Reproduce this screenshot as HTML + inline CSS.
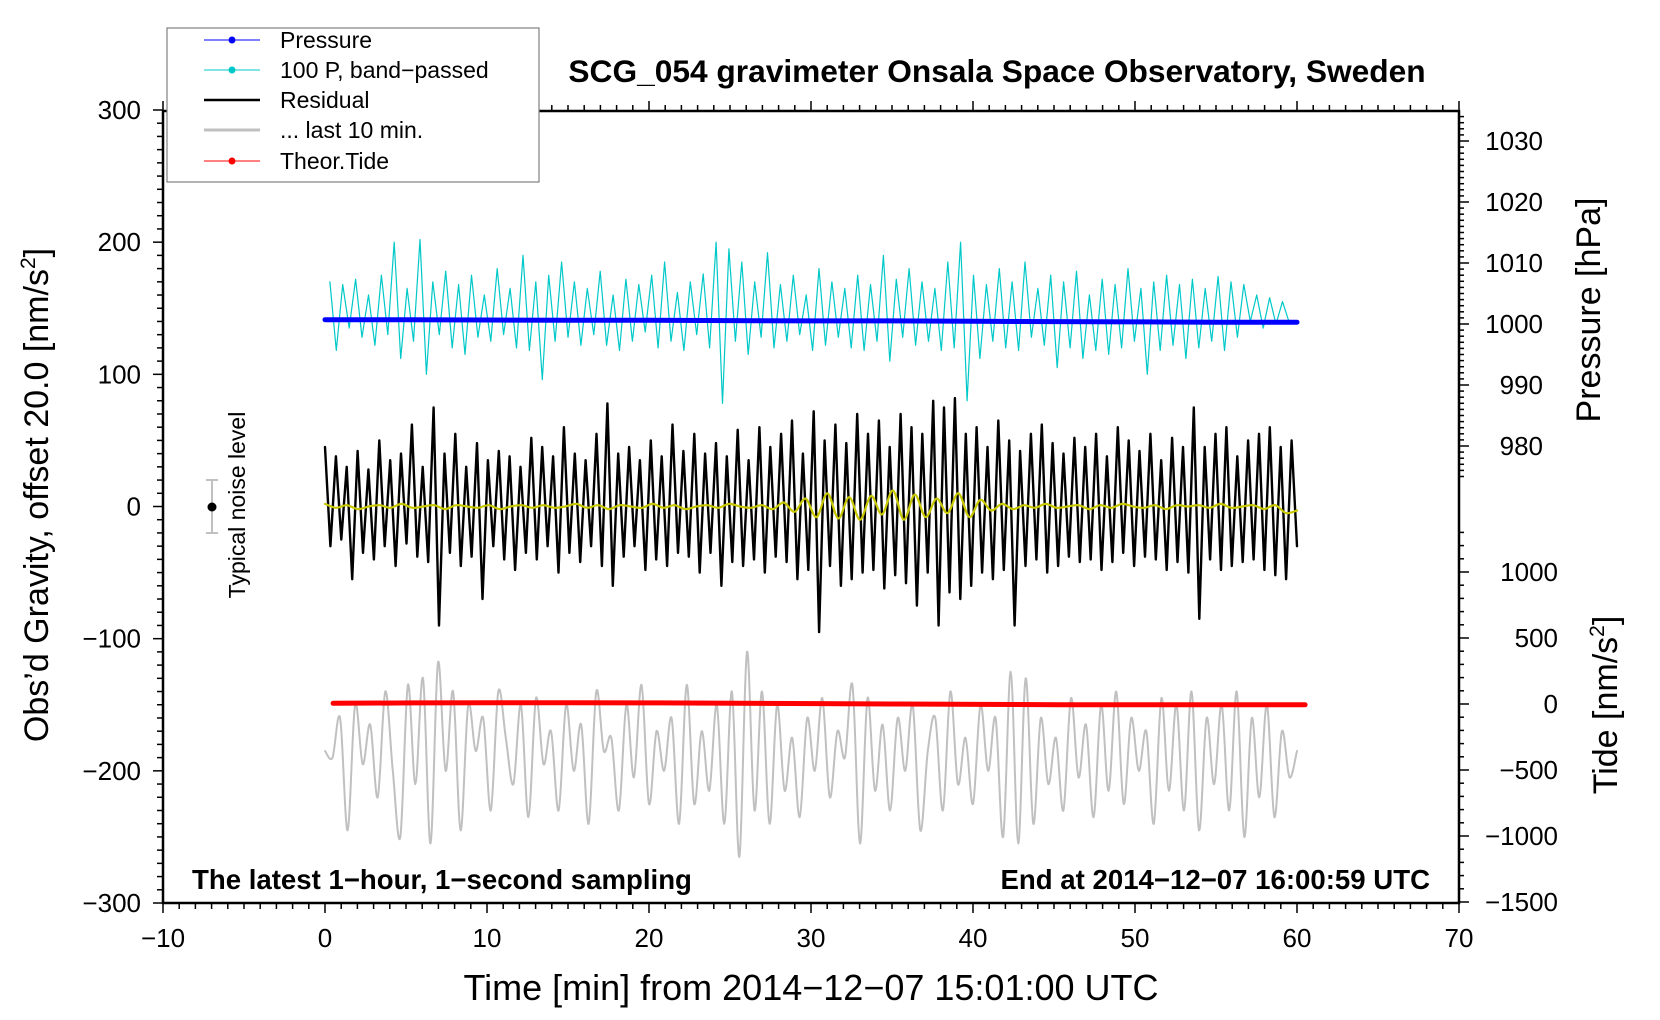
<!DOCTYPE html>
<html><head><meta charset="utf-8"><style>
html,body{margin:0;padding:0;background:#fff;}
svg{display:block;font-family:"Liberation Sans",Arial,sans-serif;}
</style></head><body>
<svg id="chart" width="1660" height="1020" viewBox="0 0 1660 1020" xmlns="http://www.w3.org/2000/svg">
<g id="grid-layer"></g>
<g id="series-layer"></g>
<rect x="163" y="111" width="1296" height="792" fill="none" stroke="#000" stroke-width="2.5"/>
<text x="997" y="82" font-size="31.7" font-weight="bold" text-anchor="middle">SCG_054 gravimeter Onsala Space Observatory, Sweden</text>
<text x="811" y="1000" font-size="36" text-anchor="middle">Time [min] from 2014−12−07 15:01:00 UTC</text>
<text transform="translate(48,495) rotate(-90)" font-size="34" text-anchor="middle">Obs’d Gravity, offset 20.0 [nm/s<tspan font-size="21" dy="-13">2</tspan><tspan dy="13">]</tspan></text>
<text transform="translate(1600,310) rotate(-90)" font-size="34" text-anchor="middle">Pressure [hPa]</text>
<text transform="translate(1617,705) rotate(-90)" font-size="34" text-anchor="middle">Tide [nm/s<tspan font-size="21" dy="-13">2</tspan><tspan dy="13">]</tspan></text>
<text x="192" y="889" font-size="27.6" font-weight="bold">The latest 1−hour, 1−second sampling</text>
<text x="1430" y="889" font-size="27.6" font-weight="bold" text-anchor="end">End at 2014−12−07 16:00:59 UTC</text>
<g>
<line x1="212" y1="480" x2="212" y2="533" stroke="#c0c0c0" stroke-width="2"/>
<line x1="206" y1="480" x2="218" y2="480" stroke="#c0c0c0" stroke-width="2"/>
<line x1="206" y1="533" x2="218" y2="533" stroke="#c0c0c0" stroke-width="2"/>
<circle cx="212" cy="507" r="4.5" fill="#000"/>
<text transform="translate(245,505) rotate(-90)" font-size="23" text-anchor="middle">Typical noise level</text>
</g>
<g>
<rect x="167" y="28" width="372" height="154" fill="#fff" stroke="#808080" stroke-width="1.2"/>
<g><line x1="204" y1="40" x2="260" y2="40" stroke="#0000ff" stroke-width="1"/><circle cx="232" cy="40" r="3.5" fill="#0000ff"/><text x="280" y="48" font-size="23">Pressure</text></g>
<g><line x1="204" y1="70" x2="260" y2="70" stroke="#00c8c8" stroke-width="1"/><circle cx="232" cy="70" r="3.5" fill="#00c8c8"/><text x="280" y="78" font-size="23">100 P, band−passed</text></g>
<g><line x1="204" y1="100" x2="260" y2="100" stroke="#000" stroke-width="2.5"/><text x="280" y="108" font-size="23">Residual</text></g>
<g><line x1="204" y1="130" x2="260" y2="130" stroke="#c0c0c0" stroke-width="3"/><text x="280" y="138" font-size="23">... last 10 min.</text></g>
<g><line x1="204" y1="161" x2="260" y2="161" stroke="#ff0000" stroke-width="1"/><circle cx="232" cy="161" r="3.5" fill="#ff0000"/><text x="280" y="169" font-size="23">Theor.Tide</text></g>
</g>
</svg>
<script>
const residual=[45,-30,38,-25,30,-55,42,-35,28,-40,50,-30,35,-45,40,-28,62,-38,30,-42,
75,-90,40,-35,55,-45,30,-38,48,-70,35,-30,42,-40,38,-48,30,-35,52,-40,
45,-30,38,-50,60,-35,40,-42,35,-30,55,-45,78,-60,40,-38,45,-30,35,-48,
50,-40,38,-45,62,-35,42,-38,55,-50,40,-35,48,-60,38,-42,58,-45,35,-40,
60,-50,45,-38,55,-42,65,-55,40,-48,72,-95,50,-45,62,-60,48,-55,70,-50,
55,-48,65,-62,45,-52,70,-58,60,-75,55,-50,80,-90,75,-65,82,-70,55,-60,
60,-50,45,-55,65,-48,50,-90,42,-45,55,-40,62,-50,48,-45,40,-38,52,-42,
45,-40,55,-48,38,-42,60,-35,50,-45,42,-38,55,-40,35,-48,52,-42,45,-50,
75,-85,45,-40,55,-48,60,-45,38,-42,50,-40,55,-48,60,-52,45,-55,50,-30];
const bandPassed=[170,118,168,135,172,128,160,122,175,130,200,112,165,125,202,100,170,130,178,120,
168,115,175,128,160,125,180,130,165,120,190,118,170,96,175,125,185,128,170,122,
165,130,178,122,160,118,172,125,168,132,175,120,185,125,162,118,170,130,176,120,
200,78,195,125,185,115,170,128,192,120,168,125,175,130,160,118,180,122,170,128,
165,120,175,118,168,125,190,110,172,128,180,122,170,125,165,118,185,120,200,80,
175,112,168,125,180,120,170,118,185,128,165,122,175,105,170,120,178,112,160,118,
172,115,168,120,180,125,165,100,170,118,175,122,168,112,172,120,165,125,174,118,
170,128,168,140,160,135,158,138,155,140];
const smoothed=[2,-1,1,-2,0,1,-1,2,-1,0,1,-2,1,0,-1,1,-2,0,1,-1,
1,-1,0,2,-1,1,-2,1,0,-1,2,-1,1,-2,0,1,-1,2,0,-1,
1,-2,3,-4,6,-8,10,-9,7,-10,8,-6,12,-10,9,-8,6,-5,10,-8,
5,-3,2,-2,1,-1,2,-1,0,1,-2,1,-1,2,0,-1,1,-2,1,0,
1,-1,2,-1,0,1,-2,1,-5,-3];
const last10=[-185,-190,-160,-245,-150,-195,-165,-220,-140,-200,-250,-135,-210,-130,-255,-118,-200,-140,-245,-150,
-185,-160,-230,-140,-175,-210,-150,-235,-145,-195,-170,-230,-150,-200,-165,-240,-140,-185,-175,-230,
-150,-205,-135,-225,-170,-200,-160,-240,-135,-225,-170,-215,-150,-240,-140,-265,-110,-230,-140,-240,
-150,-215,-175,-235,-160,-200,-145,-220,-170,-190,-135,-255,-145,-215,-165,-230,-160,-200,-150,-245,
-185,-160,-230,-140,-210,-175,-225,-150,-200,-160,-250,-125,-255,-130,-240,-160,-210,-175,-230,-145,
-205,-165,-235,-150,-215,-140,-225,-160,-200,-170,-240,-145,-215,-150,-230,-140,-245,-160,-210,-150,
-230,-140,-250,-160,-220,-150,-235,-170,-205,-185];
const pressure=[1000.7,1000.7,1000.65,1000.6,1000.6,1000.55,1000.5,1000.5,1000.45,1000.4,1000.35,1000.3,1000.3];
const tide=[5,8,10,10,8,5,3,0,-3,-5,-6,-6,-6];
const xTicks=[-10,0,10,20,30,40,50,60,70];
const yTicks=[-300,-200,-100,0,100,200,300];
const pTicks=[980,990,1000,1010,1020,1030];
const tTicks=[-1500,-1000,-500,0,500,1000];

const NS="http://www.w3.org/2000/svg";
const X=t=>163+(t+10)*16.2;
const Y=g=>506.5-g*1.3217;
const YP=p=>324-(p-1000)*6.1;
const YT=v=>704-v*0.132;
const axes=document.getElementById('grid-layer');
const ser=document.getElementById('series-layer');
function mk(tag,attrs,parent){const e=document.createElementNS(NS,tag);for(const k in attrs)e.setAttribute(k,attrs[k]);parent.appendChild(e);return e;}
function ln(x1,y1,x2,y2){return mk('line',{x1,y1,x2,y2,stroke:'#000','stroke-width':1.5},axes);}
for(let t=-10;t<=70;t++){const big=t%10===0;const L=big?10:6;ln(X(t),903,X(t),903+L);ln(X(t),111,X(t),111-L);}
xTicks.forEach(t=>{const e=mk('text',{x:X(t),y:947,'font-size':26,'text-anchor':'middle'},axes);e.textContent=String(t).replace('-','−');

});
for(let g=-300;g<=300;g+=10){const big=g%100===0;ln(163,Y(g),163-(big?10:6),Y(g));}
yTicks.forEach(g=>{const e=mk('text',{x:141,y:Y(g)+9,'font-size':26,'text-anchor':'end'},axes);e.textContent=String(g).replace('-','−');

});
for(let p=975;p<=1034;p++){const big=p%10===0;ln(1459,YP(p),1459+(big?10:5),YP(p));}
pTicks.forEach(p=>{const e=mk('text',{x:1543,y:YP(p)+9,'font-size':26,'text-anchor':'end'},axes);e.textContent=String(p);

});
for(let v=-1500;v<=1300;v+=100){const big=v%500===0;ln(1459,YT(v),1459+(big?10:5),YT(v));}
tTicks.forEach(v=>{const e=mk('text',{x:1558,y:YT(v)+9,'font-size':26,'text-anchor':'end'},axes);e.textContent=String(v).replace('-','−');

});
function pts(arr,t0,t1,yf){const n=arr.length;return arr.map((v,i)=>[X(t0+(t1-t0)*i/(n-1)),yf(v)]);}
function draw(d,color,w,name){
  const p=mk('path',{d,fill:'none',stroke:color,'stroke-width':w,'stroke-linejoin':'round','stroke-linecap':'round'},ser);
  
  
}
function linePath(P){return P.map((p,i)=>(i?'L':'M')+p[0].toFixed(1)+','+p[1].toFixed(1)).join('');}
function smoothPath(P){let d='M'+P[0][0].toFixed(1)+','+P[0][1].toFixed(1);
  for(let i=0;i<P.length-1;i++){const p0=P[Math.max(i-1,0)],p1=P[i],p2=P[i+1],p3=P[Math.min(i+2,P.length-1)];
    const c1x=p1[0]+(p2[0]-p0[0])/6,c1y=p1[1]+(p2[1]-p0[1])/6,c2x=p2[0]-(p3[0]-p1[0])/6,c2y=p2[1]-(p3[1]-p1[1])/6;
    d+='C'+c1x.toFixed(1)+','+c1y.toFixed(1)+' '+c2x.toFixed(1)+','+c2y.toFixed(1)+' '+p2[0].toFixed(1)+','+p2[1].toFixed(1);}
  return d;}
draw(linePath(pts(bandPassed,0.3,59.5,Y)),'#00c8c8',1.2,'bandpassed-line');
draw(linePath(pts(pressure,0,60,YP)),'#0000ff',5,'pressure-line');
draw(linePath(pts(residual,0,60,Y)),'#000',2.4,'residual-line');
draw(smoothPath(pts(smoothed,0,60,Y)),'#c8c800',2.2,'residual-smoothed-line');
draw(smoothPath(pts(last10,0,60,Y)),'#c0c0c0',2,'last-10-min-line');
draw(linePath(pts(tide,0.5,60.5,YT)),'#ff0000',5,'tide-line');
</script>
</body></html>
